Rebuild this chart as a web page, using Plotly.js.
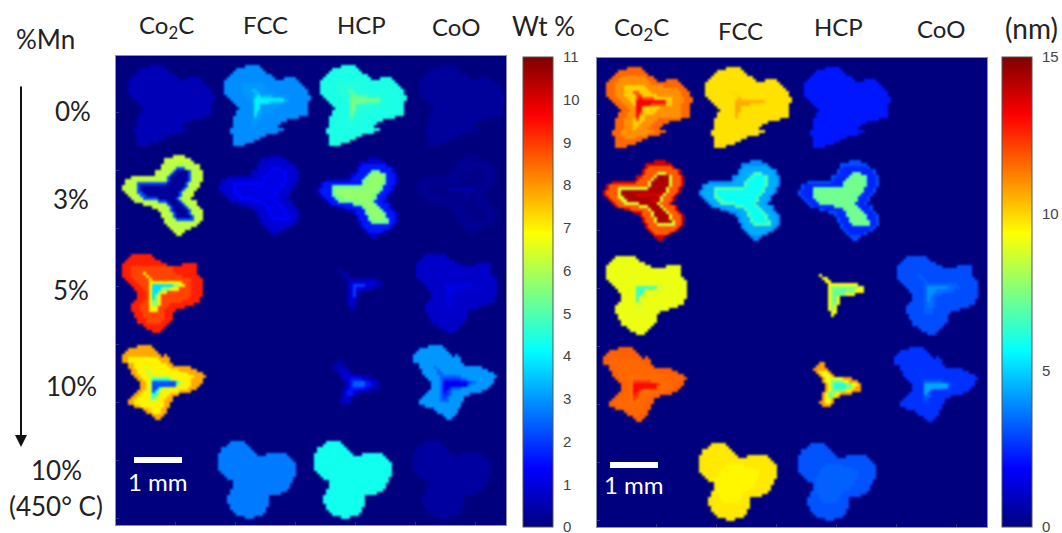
<!DOCTYPE html>
<html><head><meta charset="utf-8">
<script src="https://cdn.plot.ly/plotly-3.0.1.min.js"></script>
<style>html,body{margin:0;padding:0;background:#fff}#g{width:1062px;height:533px}
.heatmaplayer image{filter:blur(.8px)}</style>
</head><body><div id="g"></div>
<script>
// Region maps: '.' = no signal, digits = zone number inside one map
const mapA = [
".......11111",
"....111111111",
"...11111111111",
"..11122222222111",
".1112222222222111...1111",
"1112222222222221111111111",
"11122233333332222221111111",
"111222333333332222222222111",
"1112223334433332222222222111",
"1112223333443333322222222111",
".1112223334544443333332222111",
"..111222335555555555332222111",
"...1112223555554444433222111",
"....111222553333332222222111",
".....11122553333322222222111",
"....111222543333222222222111",
"....111222533222222222222111",
"...1112223433222211111111",
"...111222333222211111",
"...1112223322221111",
"...111222322221111",
"..111222222222221111",
"..1112222222221111",
"...11122221111",
"...111111111",
"...1111111",
"...1111"
];
const mapB = [
".................1111",
"..............111111111",
"..............1222222221",
".............1222222222221",
".............1222233322221",
"...........112222344443222 1",
"...........122223444443222 1",
"...111111112222344444432221",
".12222222222222344444432221",
".1222333333333344444432221",
"12222344444444444444432221",
"1222234444455555555532221",
".12223344444444444432221",
"..122233444444445543 2221",
"...12223333344444432221",
"....122222223334444322221",
".......1122222234444 32221",
"..........1112223444432221",
"............12223444443 2221",
".............122234444 32221",
".............12223444443 221",
"..............1222333333221",
"..............122222222221",
"...............1222222221",
"................1222221",
".................1111",
"..................11"
];
const mapC = [
"...1111111",
"..111111111",
".111111111111",
"111111111111111.....11111",
"1112222222222222211111111",
"1112222222222222211111111",
"1112222322222222221111111",
"11122222322222222222111111",
".11122222322222222222221111",
"..111222233333333333222 1111",
"...111222355555554433221111",
"....11122355544433322221111",
".....1112355433222222221111",
".....1112354322222222221111",
".....111235432222222221111",
"....11122344322222 22111111",
"...111222344322211111111",
"...11122233322 2111111",
"...111222333221111",
"....11122222221 11",
"....1112222222111",
".....111222222111",
".....11122222111",
".......11111111",
"........111111",
"..........111"
];
const mapD = [
".....11111",
"..111111111",
".11111111111",
"1111111111111.1",
"1122222222221111",
"1122222222222111",
"..112222222222211",
"..11222322222222 1111111",
"...1122232222222222111111",
"...112223322222222222211111",
"....1122233333332222222 21111",
".....1122344444433222221111",
"......112355555555433221111",
"......11235555555532222111",
"......1123554333222222111",
".....11223543222222 1111",
"....112223443222111",
"...11222234322211",
"..11222223332 2111",
"..1122222222221 1",
"....112222222211",
".......11222211",
"........1122211",
"..........1111",
"...........11"
];
const mapE = [
"....11111",
"...1111111",
".1111111111",
".11111111111",
"1111111111111...1111111",
"111111111111111111111111",
"1111111111111111111111111",
"11111111122222211111111111",
"11111111222222222211111111",
"1111111222222222222211111 1",
".1111112222222222222111111",
"..11112222222222222211111 1",
"...1122222222222222111111",
".....12222222222222111111",
".....1222222222222111111",
".....1222222222221111111",
"....12222222222 1111111 1",
"....11122222221111111",
"...11112222222111",
"...11111222221111",
"...1111111111111 1",
"....1111111111111",
"....111111111111",
".....11111111111",
"......111111111",
".........111"
];
const mapF = [
"1",
".11",
"..11",
"...1111111111",
"...122222222211",
"...123333222111",
"...123222111",
"...1231",
"...1231",
"...1221",
"...121",
"...121",
"....11",
"....1"
];
const mapG = [
"..11",
".111",
"11111",
".12221",
"..12221",
"...1222222111",
"...122333322111",
"....123444433221",
"....123444433211",
"....123333322111",
"...1233221111",
"...123321",
"...1221",
"..11221",
"...111"
];
const maps = {A: mapA, B: mapB, C: mapC, D: mapD, E: mapE, F: mapF, G: mapG};
for (const k in maps) maps[k] = maps[k].map(s => s.replace(/ /g, ""));

const phases = ["Co<sub>2</sub>C", "FCC", "HCP", "CoO"];
const samples = ["0%", "3%", "5%", "10%"];

// Left panel: weight %, each sample = map name, column, row, zone values
const wtMaps = ["A","A","A","A","B","B","B","B","C","F","C","D","G","D","E","E","E"];
const wtCols = [4,36,68,101,2,34,67,100,2,74,100,2,72,99,34,66,99];
const wtRows = [3,3,3,3,33,33,34,33,66,71,66,96,101,96,128,128,128];
const wtZones = [
  [.6,.6,.6,.6,.6],[2.9,2.9,3.0,3.4,4.0],[4.4,4.4,4.5,5.0,5.4],[.3,.3,.3,.3,.3],
  [6.3,6.1,2.2,.3,.3],[.7,.9,1.4,1.1,1.2],[.8,1.6,5.2,5.7,5.7],[.15,.2,.15,.1,.6],
  [9.3,8.9,7.0,5.6,3.8],[.5,1.0,2.0],[.8,.8,.85,1,1.1],
  [7.8,7.0,6.3,4.5,2.2],[.5,.9,1.6,2.4],[3.0,3.0,2.4,1.9,1.2],
  [2.7,2.7],[4.3,4.3],[.35,.35]
];
// Right panel: crystallite size in nm
const nmMaps = ["A","A","A","B","B","B","C","F","C","D","G","D","E","E"];
const nmCols = [3,36,69,2,34,67,3,74,100,2,72,99,34,67];
const nmRows = [3,3,3,34,34,34,66,72,66,96,101,96,128,128];
const nmZones = [
  [11.6,11.0,10.1,12,13.2],[9.8,9.8,9.8,9.9,10.6],[2.2,2.2,2.2,2.2,2.2],
  [13.8,11.8,8.8,14.3,13.7],[3.9,4.4,6.8,5.8,5.9],[3.0,2.4,7.1,7.3,7.3],
  [9.1,9.1,9.0,8.8,6.5],[9.3,7.6,7.0],[3.0,3.0,3.3,3.5,4.0],
  [11.7,11.6,11.5,12.3,13],[10.8,9.2,7.4,6.2],[2.6,2.6,2.7,3.2,4.3],
  [9.7,9.5],[3.1,3.3]
];
const wtTicks = [0,1,2,3,4,5,6,7,8,9,10,11];
const nmTicks = [0,5,10,15];

const NC = 130, NR = 156;
const W = 1062, H = 533;
const px = v => v / W, py = v => 1 - v / H;

function stamp(names, cols, rows, zones) {
  const z = [];
  for (let r = 0; r < NR; r++) z.push(new Array(NC).fill(0));
  names.forEach((n, i) => {
    maps[n].forEach((line, dr) => {
      for (let dc = 0; dc < line.length; dc++) {
        const ch = line[dc];
        if (ch === ".") continue;
        const zs = zones[i];
        const v = zs[Math.min(+ch, zs.length) - 1];
        const rr = rows[i] + dr, cc = cols[i] + dc;
        if (rr < NR && cc < NC) z[rr][cc] = v;
      }
    });
  });
  return z;
}

const jet = [[0,"#00007f"],[.125,"#0000ff"],[.375,"#00ffff"],[.625,"#ffff00"],[.875,"#ff0000"],[1,"#7f0000"]];
function bar(x, vals) {
  return {x: px(x), xanchor: "left", xref: "paper", thickness: 30, thicknessmode: "pixels",
    y: 1 - 527 / H, yanchor: "bottom", len: 470 / H, lenmode: "fraction", xpad: 0, ypad: 0,
    outlinecolor: "#555", outlinewidth: 1, ticks: "outside", ticklen: 7, tickcolor: "rgba(0,0,0,0)",
    ticklabeloverflow: "allow",
    tickmode: "array", tickvals: vals, ticktext: vals.map(String),
    tickfont: {family: "Liberation Sans", size: 15, color: "#444"}};
}
const traces = [
  {type: "heatmap", z: stamp(wtMaps, wtCols, wtRows, wtZones), xaxis: "x", yaxis: "y", zmin: 0, zmax: 11,
   colorscale: jet, hoverinfo: "skip", colorbar: bar(523, wtTicks)},
  {type: "heatmap", z: stamp(nmMaps, nmCols, nmRows, nmZones), xaxis: "x2", yaxis: "y2", zmin: 0, zmax: 15,
   colorscale: jet, hoverinfo: "skip", colorbar: bar(1002, nmTicks)}
];
const axisCommon = {showgrid: false, zeroline: false, showticklabels: false, ticks: "inside", ticklen: 3,
  tickcolor: "#2a2f8f", showline: true, linecolor: "#8d90aa", linewidth: 1, mirror: true, tickmode: "linear"};
const F = "Lato", C = "#222";
function label(x, y, text, size, color) {
  return {xref: "paper", yref: "paper", x: px(x), y: py(y), text, showarrow: false, xanchor: "center", yanchor: "middle",
    font: {family: F, size: size || 24, color: color || C}};
}
const headLeft = [166, 265, 361, 456], headLeftY = [27, 25, 24, 26];
const headRight = [641, 740, 838, 941], headRightY = [28, 30, 27, 28];
const rowY = [111, 199, 290, 386];
const rowX = [73, 71, 71, 71];
const annotations = [
  ...phases.map((t, i) => label(headLeft[i], headLeftY[i], t)),
  ...phases.map((t, i) => label(headRight[i], headRightY[i], t)),
  ...samples.map((t, i) => label(rowX[i], rowY[i], t, 26)),
  label(543, 26, "Wt %", 26), label(1031, 28, "(nm)", 28),
  label(45, 39, "%Mn", 26), label(56, 470, "10%", 26), label(56, 506, "(450° C)", 26),
  label(158, 481, "1 mm", 24, "#fff"), label(634, 484, "1 mm", 24, "#fff"),
  {xref: "paper", yref: "paper", axref: "paper", ayref: "paper", x: px(21), y: py(447), ax: px(21), ay: py(85), text: "",
   showarrow: true, arrowhead: 2, arrowsize: 1.2, arrowwidth: 2, arrowcolor: "#111"}
];
const layout = {
  width: W, height: H, margin: {l: 0, r: 0, t: 0, b: 0}, paper_bgcolor: "#fff", plot_bgcolor: "#00007f", showlegend: false,
  xaxis: {...axisCommon, domain: [px(116), px(506)], range: [-.5, NC - .5], tick0: 19.2, dtick: 20, anchor: "y"},
  yaxis: {...axisCommon, domain: [py(525), py(56)], range: [NR - .5, -.5], tick0: 18.2, dtick: 19.3, anchor: "x"},
  xaxis2: {...axisCommon, domain: [px(597), px(987)], range: [-.5, NC - .5], tick0: 19.2, dtick: 20, anchor: "y2"},
  yaxis2: {...axisCommon, domain: [py(527), py(58)], range: [NR - .5, -.5], tick0: 18.2, dtick: 19.3, anchor: "x2"},
  annotations,
  shapes: [
    {type: "rect", xref: "paper", yref: "paper", x0: px(134), x1: px(182), y0: py(463), y1: py(457), fillcolor: "#fff", line: {width: 0}},
    {type: "rect", xref: "paper", yref: "paper", x0: px(610), x1: px(658), y0: py(468), y1: py(462), fillcolor: "#fff", line: {width: 0}}
  ]
};
Plotly.newPlot("g", traces, layout, {displayModeBar: false, responsive: false});
</script></body></html>
